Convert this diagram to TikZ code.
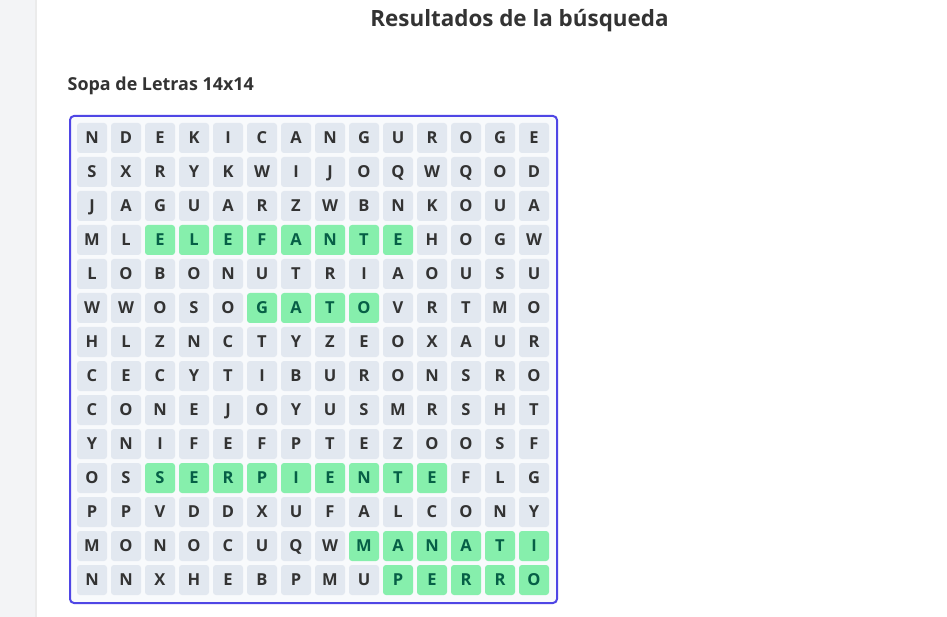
\documentclass[tikz,border=0pt]{standalone}
\usepackage{fontspec}
\setmainfont{Open Sans}
\usetikzlibrary{positioning}
\definecolor{ink}{HTML}{333333}
\definecolor{cellgray}{HTML}{E2E8F0}
\definecolor{hitgreen}{HTML}{86EFAC}
\definecolor{hitink}{HTML}{065F46}
\definecolor{framecol}{HTML}{4F46E5}
\definecolor{paper}{HTML}{F8FAFC}
\definecolor{side}{HTML}{F3F4F6}
\begin{document}
\begin{tikzpicture}[x=1pt, y=-1pt,
                    cell/.style={rectangle, rounded corners=3pt, fill=cellgray, minimum size=30pt, inner sep=0pt, text height=11.8pt, text depth=0pt, text=ink, font=\fontsize{16.5}{17}\selectfont\bfseries},
                    hitcell/.style={cell, fill=hitgreen, text=hitink}]
                    \useasboundingbox (0,0) rectangle (947,617);
                    \fill[white] (0,0) rectangle (947,617);
                    \fill[side] (0,0) rectangle (35,617);
                    \fill[black!8] (35,0) rectangle (36.5,617);
                    \node[text=ink, font=\fontsize{22.4}{26}\selectfont\bfseries, anchor=base, inner sep=0pt] (T) at (519.5,27) {Resultados de la búsqueda};
                    \node[text=ink, font=\fontsize{17.9}{20}\selectfont\bfseries, anchor=base west, inner sep=0pt] (S) at (67.5,90.3) {Sopa de Letras 14x14};
                    \node[draw=framecol, line width=2pt, fill=paper, rounded corners=4pt, minimum width=487pt, minimum height=487pt, inner sep=0pt, anchor=north west] (F) at (69,115) {};
                    \foreach \r/\a/\b/\word in {1/0/0/{N,D,E,K,I,C,A,N,G,U,R,O,G,E},
                                                 2/0/0/{S,X,R,Y,K,W,I,J,O,Q,W,Q,O,D},
                                                 3/0/0/{J,A,G,U,A,R,Z,W,B,N,K,O,U,A},
                                                 4/3/10/{M,L,E,L,E,F,A,N,T,E,H,O,G,W},
                                                 5/0/0/{L,O,B,O,N,U,T,R,I,A,O,U,S,U},
                                                 6/6/9/{W,W,O,S,O,G,A,T,O,V,R,T,M,O},
                                                 7/0/0/{H,L,Z,N,C,T,Y,Z,E,O,X,A,U,R},
                                                 8/0/0/{C,E,C,Y,T,I,B,U,R,O,N,S,R,O},
                                                 9/0/0/{C,O,N,E,J,O,Y,U,S,M,R,S,H,T},
                                                 10/0/0/{Y,N,I,F,E,F,P,T,E,Z,O,O,S,F},
                                                 11/3/11/{O,S,S,E,R,P,I,E,N,T,E,F,L,G},
                                                 12/0/0/{P,P,V,D,D,X,U,F,A,L,C,O,N,Y},
                                                 13/9/14/{M,O,N,O,C,U,Q,W,M,A,N,A,T,I},
                                                 14/10/14/{N,N,X,H,E,B,P,M,U,P,E,R,R,O}}
                    {
                        \foreach \ch [count=\c] in \word {
                            \ifnum\c<\a \def\st{cell}\else\ifnum\c>\b \def\st{cell}\else\def\st{hitcell}\fi\fi
                            \node[\st] (c-\r-\c) at (58+34*\c, 104+34*\r) {\ch};
                        }
                    }
\end{tikzpicture}
\end{document}
